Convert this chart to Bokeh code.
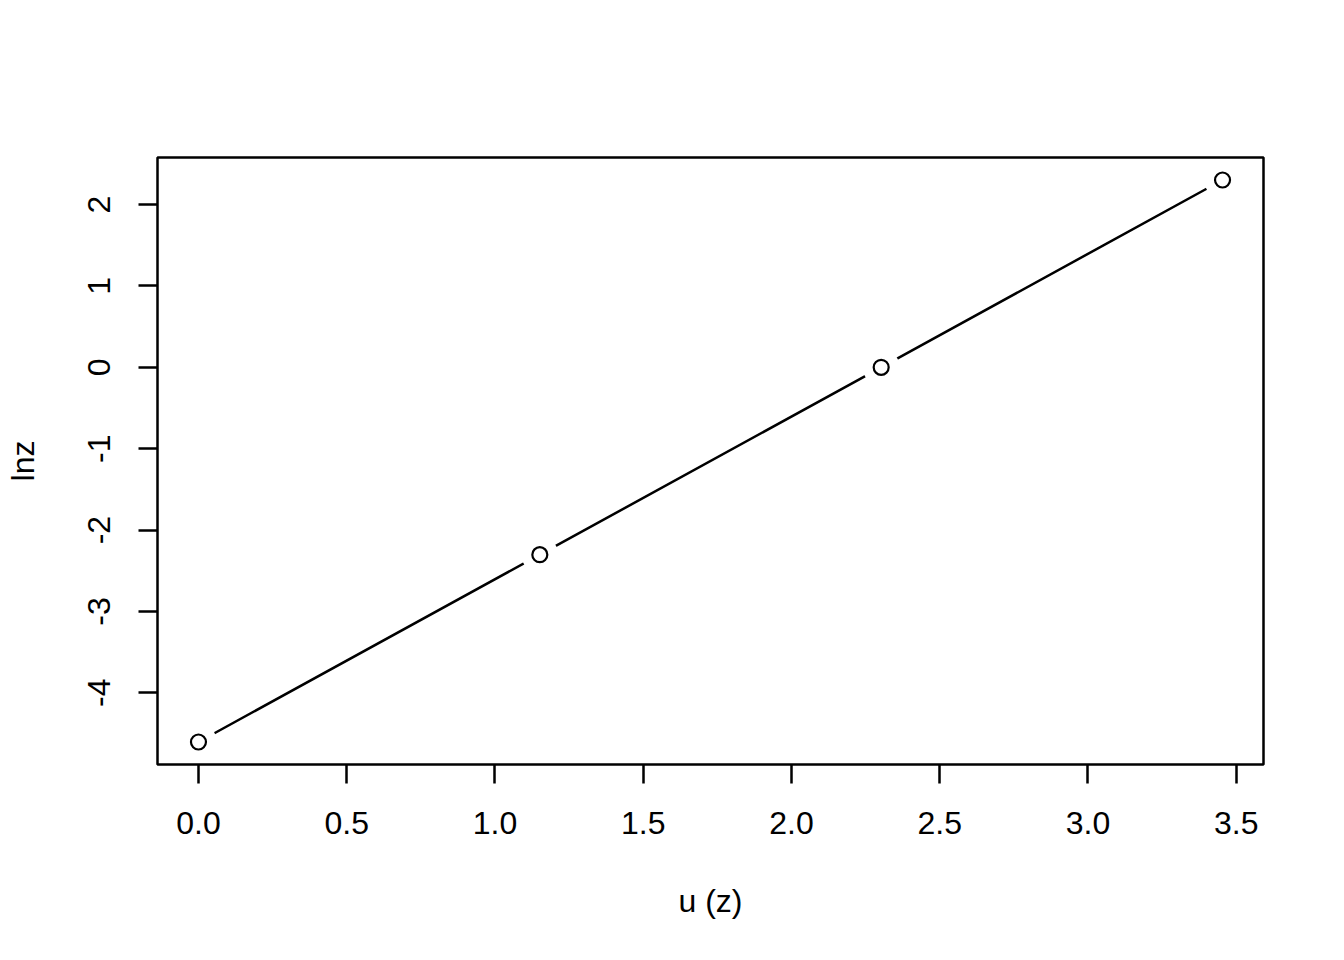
from bokeh.plotting import figure
from bokeh.models import Range1d, FixedTicker
from bokeh.embed import file_html
from bokeh.resources import INLINE

u_z = [0.0, 1.1513, 2.3026, 3.4539]
lnz = [-4.6052, -2.3026, 0.0, 2.3026]
x_ticks = [0.0, 0.5, 1.0, 1.5, 2.0, 2.5, 3.0, 3.5]
x_labels = ["0.0", "0.5", "1.0", "1.5", "2.0", "2.5", "3.0", "3.5"]
y_ticks = [-4, -3, -2, -1, 0, 1, 2]
y_labels = ["-4", "-3", "-2", "-1", "0", "1", "2"]

def expand(vals, f=0.04):
    lo, hi = min(vals), max(vals)
    d = (hi - lo) * f
    return lo - d, hi + d

xr = expand(u_z)
yr = expand(lnz)

FONT = "Liberation Sans"
LW = 2.5

p = figure(width=1328, height=944, output_backend="svg", toolbar_location=None,
           x_range=Range1d(*xr), y_range=Range1d(*yr),
           min_border_left=157, min_border_right=65, min_border_top=157, min_border_bottom=180)
p.background_fill_color = "white"
p.border_fill_color = "white"
p.outline_line_color = "black"
p.outline_line_width = LW
p.grid.visible = False

for ax, ticks, labels in ((p.xaxis[0], x_ticks, x_labels), (p.yaxis[0], y_ticks, y_labels)):
    ax.ticker = FixedTicker(ticks=ticks)
    ax.major_label_overrides = {t: l for t, l in zip(ticks, labels)}
    ax.axis_line_color = None
    ax.major_tick_line_color = "black"
    ax.major_tick_line_width = LW
    ax.major_tick_in = 0
    ax.major_tick_out = 19
    ax.minor_tick_line_color = None
    ax.major_label_text_font = FONT
    ax.major_label_text_font_size = "32px"
    ax.major_label_text_color = "black"
    ax.axis_label_text_font = FONT
    ax.axis_label_text_font_size = "32px"
    ax.axis_label_text_font_style = "normal"
    ax.axis_label_text_color = "black"
    ax.major_label_standoff = 28

p.xaxis.axis_label_standoff = 46
p.yaxis.axis_label_standoff = 45
p.xaxis.axis_label = "u (z)"
p.yaxis.axis_label = "lnz"
p.yaxis.major_label_orientation = "vertical"

p.line(u_z, lnz, line_color="black", line_width=LW)
p.scatter(u_z, lnz, size=37, fill_color="white", line_color=None)
p.scatter(u_z, lnz, size=15, fill_color="white", line_color="black", line_width=2.2)

open("out.html", "w").write(file_html(p, INLINE))
